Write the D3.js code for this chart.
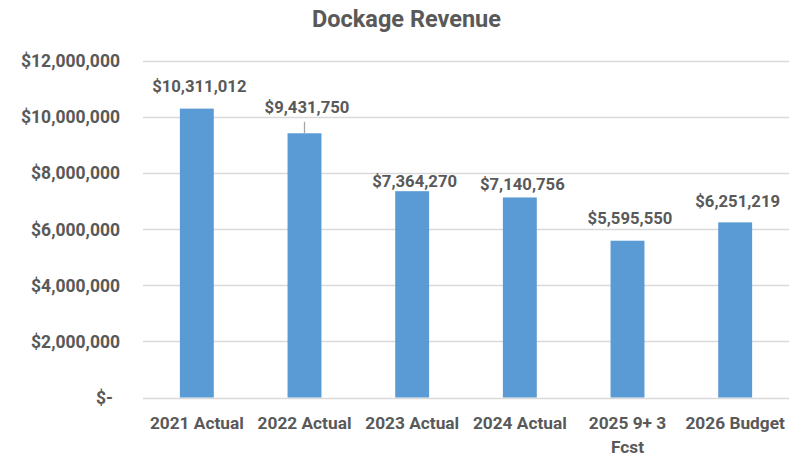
<!DOCTYPE html>
<html>
<head>
<meta charset="utf-8">
<script src="https://cdn.jsdelivr.net/npm/d3@7"></script>
<style>
  html, body { margin: 0; padding: 0; background: #fff; }
  svg { display: block; font-family: Roboto, "Liberation Sans", sans-serif; }
</style>
</head>
<body>
<svg id="chart" width="803" height="458"></svg>
<script>
// Dockage revenue by year
const categories = ["2021 Actual", "2022 Actual", "2023 Actual", "2024 Actual", "2025 9+ 3 Fcst", "2026 Budget"];
const revenue = [10311012, 9431750, 7364270, 7140756, 5595550, 6251219];
const yTicks = [0, 2000000, 4000000, 6000000, 8000000, 10000000, 12000000];
const title = "Dockage Revenue";

const W = 803, H = 458;
const margin = { top: 61.3, right: 14, bottom: 60.5, left: 143 };
const textColor = "#595959";
const gridColor = "#D9D9D9";
const barColor = "#5B9BD5";

const svg = d3.select("#chart");

const x = d3.scaleBand()
  .domain(categories)
  .range([margin.left, W - margin.right])
  .paddingInner(0.685)
  .paddingOuter(0.3425);

const y = d3.scaleLinear()
  .domain([0, 12000000])
  .range([H - margin.bottom, margin.top]);

const money = d3.format("$,.0f");

// Title
svg.append("text")
  .attr("x", 406.5)
  .attr("y", 26.5)
  .attr("text-anchor", "middle")
  .attr("fill", textColor)
  .attr("font-size", 23.5)
  .attr("font-weight", 700)
  .text(title);

// Horizontal gridlines
svg.append("g")
  .selectAll("line")
  .data(yTicks)
  .join("line")
  .attr("x1", margin.left)
  .attr("x2", W - margin.right)
  .attr("y1", d => Math.round(y(d)) + 0.5)
  .attr("y2", d => Math.round(y(d)) + 0.5)
  .attr("stroke", gridColor)
  .attr("stroke-width", 1.3);

// Y axis labels
const yAxis = d3.axisLeft(y)
  .tickValues(yTicks)
  .tickSize(0)
  .tickPadding(0)
  .tickFormat(d => d === 0 ? "$-" : money(d));

const yg = svg.append("g")
  .attr("transform", `translate(${margin.left - 23},0)`)
  .call(yAxis);
yg.select(".domain").remove();
yg.selectAll("text")
  .attr("fill", textColor)
  .attr("font-size", 17.5)
  .attr("font-weight", 700)
  .attr("font-family", "Roboto, sans-serif")
  .attr("dx", d => d === 0 ? -7 : 0);

// Bars
svg.append("g")
  .selectAll("rect")
  .data(revenue)
  .join("rect")
  .attr("x", (d, i) => x(categories[i]))
  .attr("width", x.bandwidth())
  .attr("y", d => y(d))
  .attr("height", d => y(0) - y(d))
  .attr("fill", barColor);

// Data label placement: distance between label baseline and bar top
const labelGap = [17, 20, 4.5, 7.5, 17, 15];

// Leader line for the 2022 label
svg.append("line")
  .attr("x1", x(categories[1]) + x.bandwidth() / 2)
  .attr("x2", x(categories[1]) + x.bandwidth() / 2)
  .attr("y1", y(revenue[1]) - 11.5)
  .attr("y2", y(revenue[1]))
  .attr("stroke", "#A6A6A6")
  .attr("stroke-width", 1.3);

// Data labels
svg.append("g")
  .selectAll("text")
  .data(revenue)
  .join("text")
  .attr("x", (d, i) => x(categories[i]) + x.bandwidth() / 2 + 2.5)
  .attr("y", (d, i) => y(d) - labelGap[i])
  .attr("text-anchor", "middle")
  .attr("fill", textColor)
  .attr("font-size", 16.7)
  .attr("font-weight", 700)
  .text(d => money(d));

// Category axis labels, wrapped to the band width
const xAxis = d3.axisBottom(x).tickSize(0).tickPadding(0);
const xg = svg.append("g")
  .attr("transform", `translate(0,${H - margin.bottom})`)
  .call(xAxis);
xg.select(".domain").remove();
xg.selectAll("text")
  .attr("fill", textColor)
  .attr("font-size", 17.3)
  .attr("font-weight", 700)
  .attr("font-family", "Roboto, sans-serif")
  .attr("dy", null)
  .attr("y", 31.5)
  .each(function () { wrap(d3.select(this), 100); });

function wrap(text, width) {
  const words = text.text().split(/\s+/);
  text.text(null);
  let line = [];
  let tspan = text.append("tspan").attr("x", 0);
  for (const w of words) {
    line.push(w);
    tspan.text(line.join(" "));
    if (tspan.node().getComputedTextLength() > width && line.length > 1) {
      line.pop();
      tspan.text(line.join(" "));
      line = [w];
      tspan = text.append("tspan").attr("x", 0).attr("dy", 24).text(w);
    }
  }
}
</script>
</body>
</html>
